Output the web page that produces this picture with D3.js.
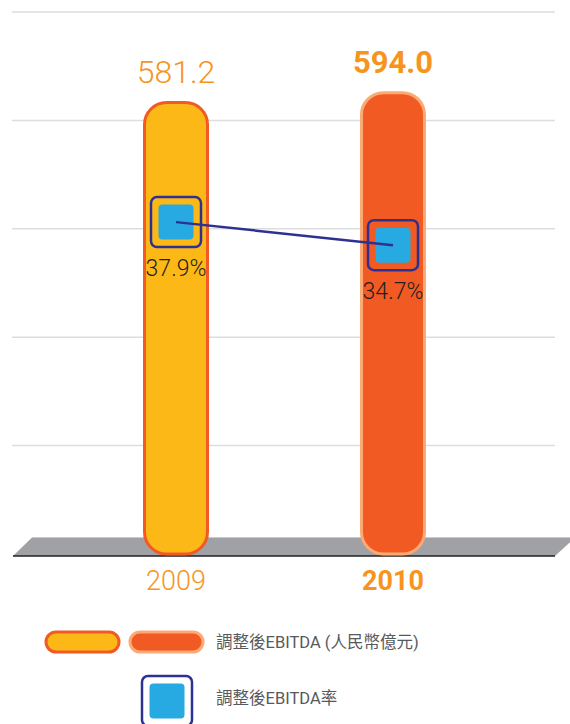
<!DOCTYPE html>
<html>
<head>
<meta charset="utf-8">
<script src="https://cdn.jsdelivr.net/npm/d3@7/dist/d3.min.js"></script>
<style>
  html, body { margin: 0; padding: 0; background: #fff; }
  svg { display: block; }
</style>
</head>
<body>
<div id="chart"></div>
<script>
// Chart data:
var years = ['2009', '2010'],
	ebitda = [581.2, 594.0],
	margin = [37.9, 34.7],
	ebitdaLabels = ['581.2', '594.0'],
	marginLabels = ['37.9%', '34.7%'],
	gridLevels = [1, 2, 3, 4, 5];

var legendLabels = ['調整後EBITDA (人民幣億元)', '調整後EBITDA率'];

var width = 570,
	height = 724;

// Styles:
var barFill = ['#FCB817', '#F15A22'],
	barStroke = ['#F15A24', '#FBAA75'],
	orange = '#F7941D',
	navy = '#2E3192',
	cyan = '#27AAE1',
	latin = 'Roboto, "Liberation Sans", sans-serif',
	cjk = 'Roboto, "Noto Sans CJK TC", sans-serif';

var svg = d3.select('#chart').append('svg')
	.attr('width', width)
	.attr('height', height);

// Scales:
var x = d3.scalePoint()
	.domain(years)
	.range([67.5, 501.5])
	.padding(0.5);

var y = d3.scaleLinear()
	.domain([0, 600])
	.range([554, 88]);

var gridY = d3.scaleLinear()
	.domain([0, 5])
	.range([554, 12]);

var yPct = d3.scaleLinear()
	.domain([30, 40])
	.range([279, 207]);

// Grid lines:
svg.append('g').attr('class', 'grid')
	.selectAll('line')
	.data(gridLevels)
	.enter().append('line')
		.attr('x1', 12)
		.attr('x2', 555)
		.attr('y1', function(d) { return gridY(d); })
		.attr('y2', function(d) { return gridY(d); })
		.attr('stroke', '#DCDDDE')
		.attr('stroke-width', 1.5);

// The floor (grey slanted band):
var floorTop = 537.5,
	floorBottom = 556;
svg.append('path')
	.attr('d', 'M13,' + floorBottom + 'L32,' + floorTop + 'L575,' + floorTop + 'L555,' + floorBottom + 'Z')
	.attr('fill', '#A0A1A4');
svg.append('line')
	.attr('x1', 32).attr('x2', 575)
	.attr('y1', floorTop).attr('y2', floorTop)
	.attr('stroke', '#C9CACC').attr('stroke-width', 1);
svg.append('line')
	.attr('x1', 13).attr('x2', 555)
	.attr('y1', floorBottom).attr('y2', floorBottom)
	.attr('stroke', '#231F20').attr('stroke-width', 1.5);

// Bars:
var barW = 63;
svg.append('g').attr('class', 'bars')
	.selectAll('rect')
	.data(ebitda)
	.enter().append('rect')
		.attr('x', function(d, i) { return x(years[i]) - barW / 2; })
		.attr('y', function(d) { return y(d); })
		.attr('width', barW)
		.attr('height', function(d) { return y(0) - y(d); })
		.attr('rx', 22)
		.attr('fill', function(d, i) { return barFill[i]; })
		.attr('stroke', function(d, i) { return barStroke[i]; })
		.attr('stroke-width', 3);

// Value labels:
svg.append('g')
	.selectAll('text')
	.data(ebitda)
	.enter().append('text')
		.attr('x', function(d, i) { return x(years[i]); })
		.attr('y', function(d) { return y(d) - 19.5; })
		.attr('text-anchor', 'middle')
		.attr('font-family', latin)
		.attr('font-size', function(d, i) { return i === 1 ? 31 : 32; })
		.attr('font-weight', function(d, i) { return i === 1 ? 700 : 300; })
		.attr('fill', orange)
		.text(function(d, i) { return ebitdaLabels[i]; });

// Category labels:
svg.append('g')
	.selectAll('text')
	.data(years)
	.enter().append('text')
		.attr('x', function(d) { return x(d); })
		.attr('y', 590)
		.attr('text-anchor', 'middle')
		.attr('font-family', latin)
		.attr('font-size', 27)
		.attr('font-weight', function(d, i) { return i === 1 ? 700 : 300; })
		.attr('fill', orange)
		.text(function(d) { return d; });

// Margin line:
var line = d3.line()
	.x(function(d, i) { return x(years[i]); })
	.y(function(d) { return yPct(d); });

// Marker drawing helper:
function marker(g, cx, cy) {
	g.append('rect')
		.attr('x', cx - 25).attr('y', cy - 25)
		.attr('width', 50).attr('height', 50)
		.attr('rx', 6)
		.attr('fill', 'none')
		.attr('stroke', navy)
		.attr('stroke-width', 2.5);
	g.append('rect')
		.attr('x', cx - 17.5).attr('y', cy - 17.5)
		.attr('width', 35).attr('height', 35)
		.attr('rx', 4)
		.attr('fill', cyan);
}

var markers = svg.append('g').attr('class', 'markers');
margin.forEach(function(d, i) {
	marker(markers, x(years[i]), yPct(d));
});

// Line drawn over the inner squares:
svg.append('path')
	.datum(margin)
	.attr('d', line)
	.attr('fill', 'none')
	.attr('stroke', navy)
	.attr('stroke-width', 2.5);

// Margin labels:
svg.append('g')
	.selectAll('text')
	.data(margin)
	.enter().append('text')
		.attr('x', function(d, i) { return x(years[i]); })
		.attr('y', function(d) { return yPct(d) + 54; })
		.attr('text-anchor', 'middle')
		.attr('font-family', latin)
		.attr('font-size', 23)
		.attr('font-weight', 300)
		.attr('fill', '#231F20')
		.text(function(d, i) { return marginLabels[i]; });

// Legend:
var legend = svg.append('g').attr('class', 'legend');
barFill.forEach(function(c, i) {
	legend.append('rect')
		.attr('x', 46 + i * 84).attr('y', 632)
		.attr('width', 73).attr('height', 20)
		.attr('rx', 10)
		.attr('fill', c)
		.attr('stroke', barStroke[i])
		.attr('stroke-width', 3);
});
legend.append('text')
	.attr('x', 216).attr('y', 648)
	.attr('font-family', cjk)
	.attr('font-size', 16.5)
	.attr('fill', '#58595B')
	.text(legendLabels[0]);

marker(legend, 167, 701);
legend.append('text')
	.attr('x', 216).attr('y', 704)
	.attr('font-family', cjk)
	.attr('font-size', 16.5)
	.attr('fill', '#58595B')
	.text(legendLabels[1]);
</script>
</body>
</html>
